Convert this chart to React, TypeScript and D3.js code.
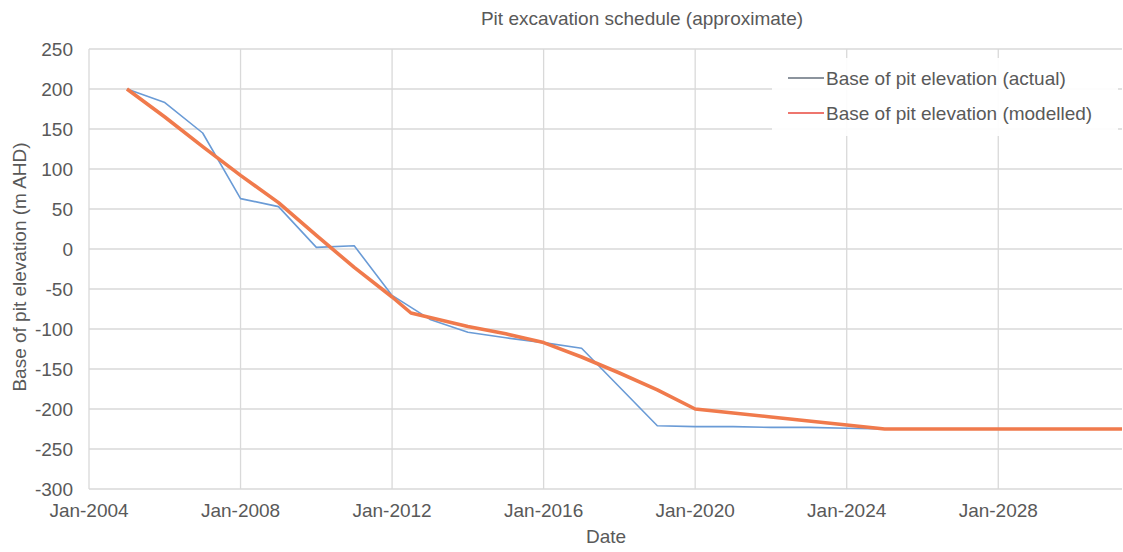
import { useEffect, useRef } from 'react'
import * as d3 from 'd3'

// Base of pit elevation, actual (m AHD)
const actualDates = ['2005-01', '2006-01', '2007-01', '2008-01', '2009-01', '2010-01', '2011-01', '2012-01', '2013-01', '2014-01', '2015-01', '2016-01', '2017-01', '2019-01', '2020-01', '2021-01', '2022-01', '2023-01', '2024-01', '2025-01']
const actualValues = [200, 183, 145, 63, 53, 2, 4, -58, -88, -104, -111, -117, -124, -221, -222, -222, -223, -223, -224, -225]

// Base of pit elevation, modelled (m AHD)
const modelDates = ['2005-01', '2006-01', '2007-01', '2008-01', '2009-01', '2010-01', '2011-01', '2012-01', '2012-07', '2014-01', '2015-01', '2016-01', '2017-01', '2018-01', '2019-01', '2020-01', '2021-01', '2022-01', '2023-01', '2024-01', '2025-01', '2026-01', '2027-01', '2028-01', '2029-01', '2030-01', '2031-01', '2032-01']
const modelValues = [200, 165, 128, 92, 58, 17, -23, -60, -80, -97, -106, -117, -135, -155, -176, -200, -205, -210, -215, -220, -225, -225, -225, -225, -225, -225, -225, -225]

const yTicks = [250, 200, 150, 100, 50, 0, -50, -100, -150, -200, -250, -300]
const seriesNames = ['Base of pit elevation (actual)', 'Base of pit elevation (modelled)']

const W = 1123
const H = 552
const FONT = '"Liberation Sans", Arial, sans-serif'
const TXT = '#595959'
const parse = d3.timeParse('%Y-%m')

export default function App() {
  const ref = useRef<SVGSVGElement>(null)

  useEffect(() => {
    if (!ref.current) return
    const svg = d3.select(ref.current)
    svg.selectAll('*').remove()

    const left = 89, right = 1122, top = 49, bottom = 489

    const x = d3.scaleTime()
      .domain([new Date(2004, 0, 1), new Date(2031, 3, 8)])
      .range([left, right])
    const y = d3.scaleLinear().domain([-300, 250]).range([bottom, top])

    svg.append('defs').append('clipPath').attr('id', 'plot')
      .append('rect').attr('x', left).attr('y', top - 5).attr('width', right - left).attr('height', bottom - top + 10)

    // grille
    svg.selectAll('.hgrid').data(yTicks).enter().append('line')
      .attr('x1', left).attr('x2', right)
      .attr('y1', d => y(d)).attr('y2', d => y(d))
      .attr('stroke', '#d9d9d9').attr('stroke-width', 1.3)

    const xTicks = x.ticks(d3.timeYear.every(4)!)
    svg.selectAll('.vgrid').data(xTicks).enter().append('line')
      .attr('x1', d => x(d)).attr('x2', d => x(d))
      .attr('y1', top).attr('y2', bottom)
      .attr('stroke', '#d9d9d9').attr('stroke-width', 1.3)

    // étiquettes des axes
    svg.selectAll('.ylab').data(yTicks).enter().append('text')
      .attr('x', 73).attr('y', d => y(d)).attr('dy', '0.35em')
      .attr('text-anchor', 'end')
      .style('font-family', FONT).style('font-size', '19px').attr('fill', TXT)
      .text(d => `${d}`)

    const fmt = d3.timeFormat('%b-%Y')
    svg.selectAll('.xlab').data(xTicks).enter().append('text')
      .attr('x', d => x(d)).attr('y', 517)
      .attr('text-anchor', 'middle')
      .style('font-family', FONT).style('font-size', '19px').attr('fill', TXT)
      .text(d => fmt(d))

    // courbes
    const line = d3.line<[Date, number]>().x(d => x(d[0])).y(d => y(d[1]))
    const actual: [Date, number][] = actualDates.map((d, i) => [parse(d)!, actualValues[i]])
    const model: [Date, number][] = modelDates.map((d, i) => [parse(d)!, modelValues[i]])

    const g = svg.append('g').attr('clip-path', 'url(#plot)')
    g.append('path').datum(actual).attr('d', line)
      .attr('fill', 'none').attr('stroke', '#6a9bd6').attr('stroke-width', 1.6)
      .attr('stroke-linejoin', 'round')
    g.append('path').datum(model).attr('d', line)
      .attr('fill', 'none').attr('stroke', '#f07a4c').attr('stroke-width', 3.6)
      .attr('stroke-linejoin', 'round')

    // légende
    const legend = svg.append('g')
    legend.append('rect').attr('x', 772).attr('y', 58).attr('width', 346).attr('height', 78)
      .attr('fill', 'white').attr('opacity', 0.92)
    const legendColors = ['#66707c', '#e8483e']
    seriesNames.forEach((name, i) => {
      const ly = 78 + i * 35
      legend.append('line').attr('x1', 788).attr('x2', 824).attr('y1', ly).attr('y2', ly)
        .attr('stroke', legendColors[i]).attr('stroke-width', 1.4)
      legend.append('text').attr('x', 826).attr('y', ly).attr('dy', '0.35em')
        .style('font-family', FONT).style('font-size', '19px').attr('fill', TXT)
        .text(name)
    })

    // titres
    svg.append('text').attr('x', 642).attr('y', 25).attr('text-anchor', 'middle')
      .style('font-family', FONT).style('font-size', '19px').attr('fill', TXT)
      .text('Pit excavation schedule (approximate)')
    svg.append('text').attr('x', 606).attr('y', 543).attr('text-anchor', 'middle')
      .style('font-family', FONT).style('font-size', '19px').attr('fill', TXT)
      .text('Date')
    svg.append('text').attr('transform', 'translate(26,267) rotate(-90)')
      .attr('text-anchor', 'middle')
      .style('font-family', FONT).style('font-size', '19px').attr('fill', TXT)
      .text('Base of pit elevation (m AHD)')
  }, [])

  return (
    <svg ref={ref} width={W} height={H}
      style={{ position: 'absolute', left: 0, top: 0, background: 'white' }} />
  )
}
